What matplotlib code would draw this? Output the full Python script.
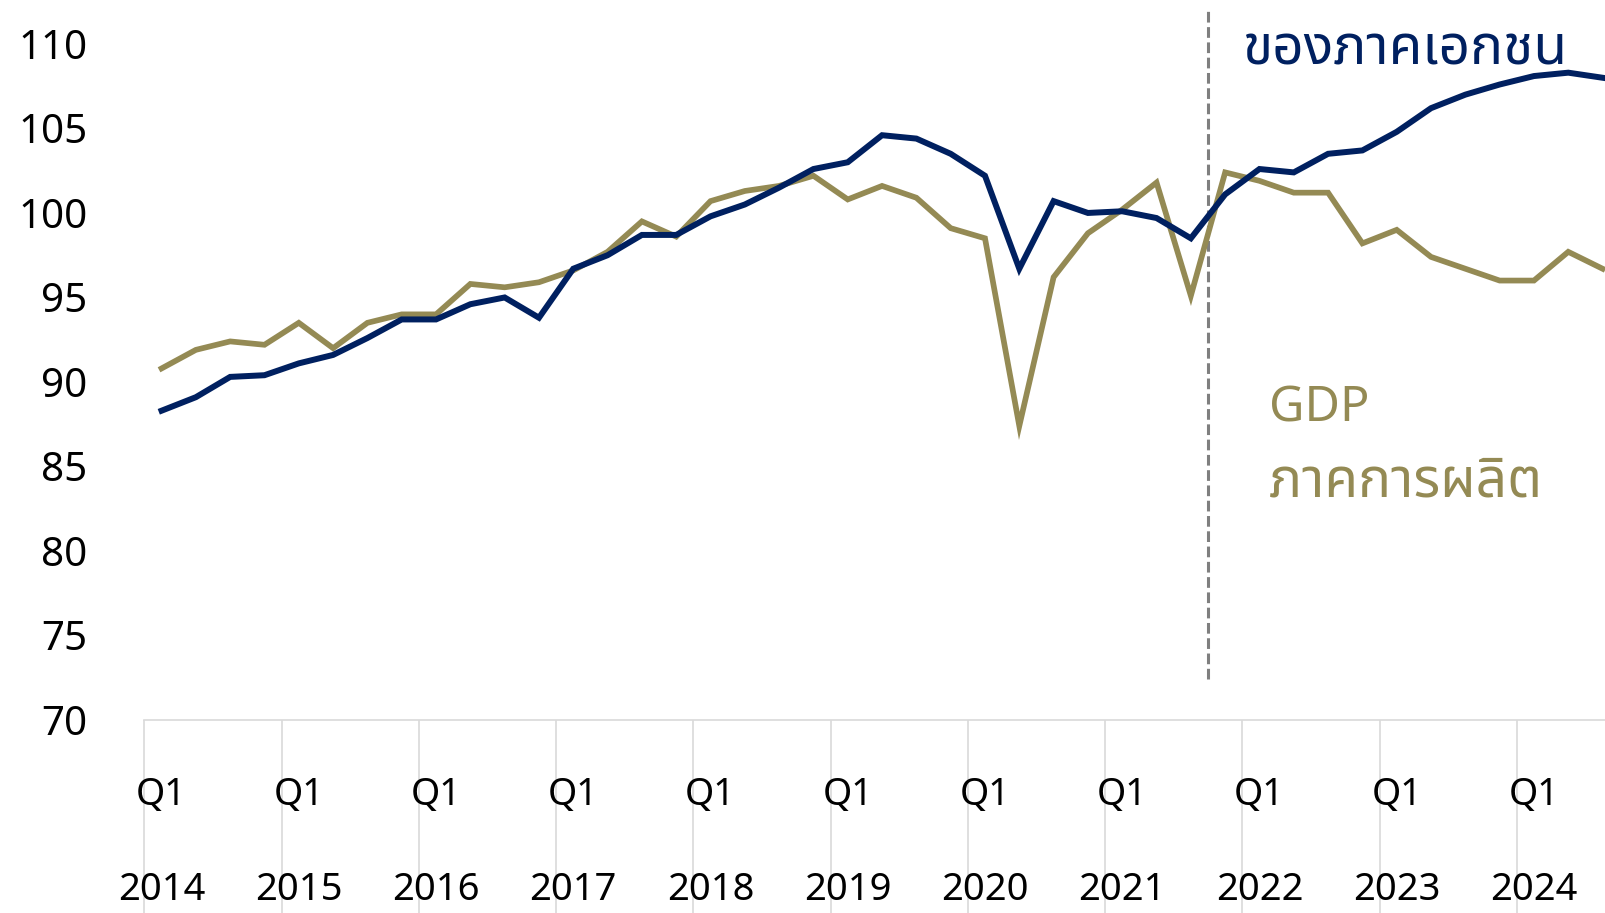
import matplotlib
matplotlib.use("Agg")
import matplotlib.pyplot as plt
from matplotlib import font_manager
from matplotlib.ft2font import FT2Font
import numpy as np

# quarterly index, 2014Q1 .. 2024Q3
years = [str(y) for y in range(2014, 2025)]
private_inv = [88.3, 89.1, 90.3, 90.4, 91.1, 91.6, 92.6, 93.7, 93.7, 94.6, 95.0, 93.8,
               96.7, 97.5, 98.7, 98.7, 99.8, 100.5, 101.5, 102.6, 103.0, 104.6, 104.4, 103.5,
               102.2, 96.7, 100.7, 100.0, 100.1, 99.7, 98.5, 101.1, 102.6, 102.4, 103.5, 103.7,
               104.8, 106.2, 107.0, 107.6, 108.1, 108.3, 108.0]
gdp_manuf = [90.8, 91.9, 92.4, 92.2, 93.5, 92.0, 93.5, 94.0, 94.0, 95.8, 95.6, 95.9,
             96.6, 97.7, 99.5, 98.6, 100.7, 101.3, 101.6, 102.2, 100.8, 101.6, 100.9, 99.1,
             98.5, 87.4, 96.2, 98.8, 100.2, 101.8, 95.1, 102.4, 101.9, 101.2, 101.2, 98.2,
             99.0, 97.4, 96.7, 96.0, 96.0, 97.7, 96.7]
y_ticks = [70, 75, 80, 85, 90, 95, 100, 105, 110]
split_at = 30.5  # between 2021Q3 and 2021Q4

NAVY = "#002060"
GOLD = "#948a54"


def thai_font():
    names = []
    for f in font_manager.fontManager.ttflist:
        try:
            if 0x0E01 in FT2Font(f.fname).get_charmap():
                names.append(f.name)
        except Exception:
            pass
    for pref in ["Noto Sans Thai", "Noto Sans Thai Looped", "Loma", "Garuda", "Tlwg Typo"]:
        if pref in names:
            return pref
    return names[0] if names else None


tf = thai_font()
fams = ([tf] if tf else []) + ["Noto Sans", "DejaVu Sans"]
plt.rcParams["font.family"] = fams

fig = plt.figure(figsize=(16.06, 9.13), dpi=100)
left = 144.4 / 1606
ax = fig.add_axes([left, 193 / 913, 1 - left, 720 / 913])

x = np.arange(len(private_inv))
ax.plot(x, gdp_manuf, color=GOLD, lw=4.1, solid_joinstyle="miter", zorder=2)
ax.plot(x, private_inv, color=NAVY, lw=4.3, solid_joinstyle="miter", zorder=3)
ax.plot([split_at, split_at], [72.4, 112.2], color="#7f7f7f", lw=2.2,
        linestyle=(0, (3.5, 1.5)), zorder=1, clip_on=False)

ax.set_xlim(-0.5, 42.1)
ax.set_ylim(70, 112.6)

for s in ["top", "right", "left"]:
    ax.spines[s].set_visible(False)
ax.spines["bottom"].set_color("#d9d9d9")
ax.spines["bottom"].set_linewidth(1.2)

ax.set_yticks(y_ticks)
ax.set_yticklabels([str(v) for v in y_ticks])
ax.tick_params(axis="y", length=0, pad=41, labelsize=29)

# year separators as long tick marks under the axis
ax.set_xticks(np.arange(-0.5, len(private_inv), 4))
ax.set_xticklabels([])
ax.tick_params(axis="x", direction="out", length=139, width=1.2, color="#d9d9d9")

tr = ax.get_xaxis_transform()
for k, yr in enumerate(years):
    ax.text(4 * k, -0.1045, "Q1", transform=tr, ha="center", va="center", fontsize=27)
    ax.text(4 * k, -0.2505, yr, transform=tr, ha="center", va="baseline", fontsize=27.5)

fig.text(1242 / 1606, 1 - 50 / 913, "ของภาคเอกชน", color=NAVY, fontsize=39.5,
         ha="left", va="center")
fig.text(1269 / 1606, 1 - 408 / 913, "GDP", color=GOLD, fontsize=35,
         ha="left", va="center")
fig.text(1269 / 1606, 1 - 482 / 913, "ภาคการผลิต", color=GOLD, fontsize=39.5,
         ha="left", va="center")

fig.savefig("out.png", dpi=100)
